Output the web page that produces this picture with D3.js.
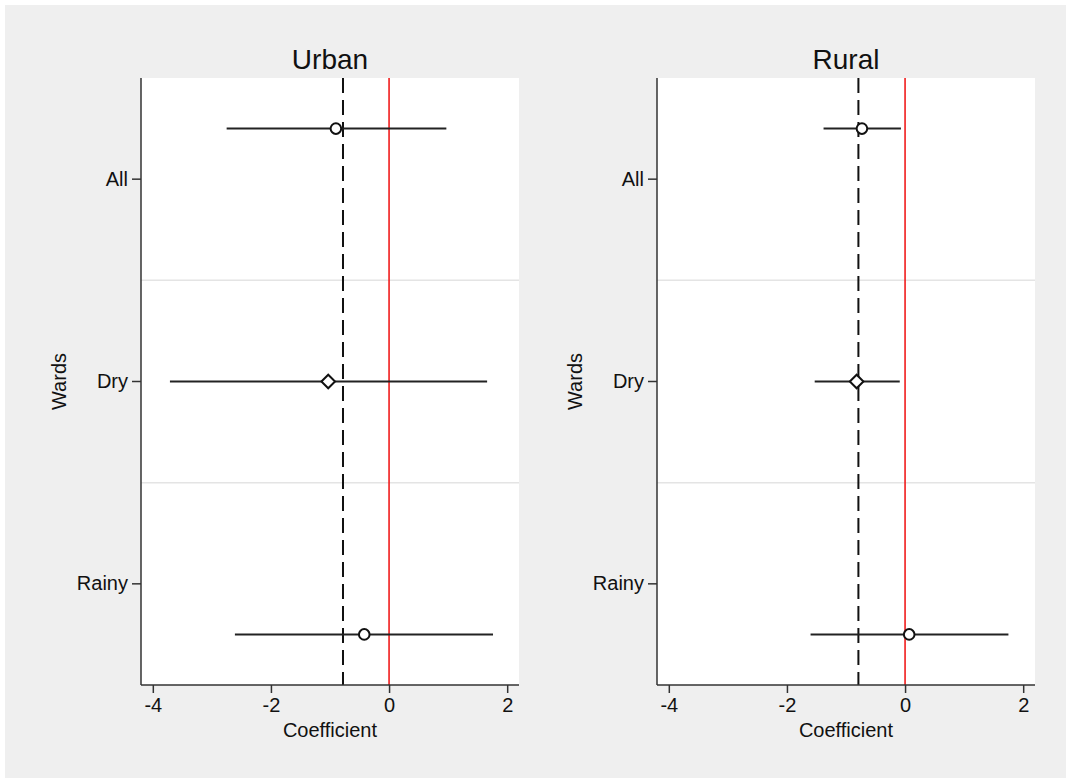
<!DOCTYPE html>
<html><head><meta charset="utf-8">
<script src="https://cdn.jsdelivr.net/npm/d3@7/dist/d3.min.js"></script>
<style>
html,body{margin:0;padding:0;background:#fff;}
text{font-family:"Liberation Sans",Arial,sans-serif;fill:#111;}
</style></head>
<body><svg id="c" width="1066" height="778"></svg>
<script>
// ---- data ----
const categories = ["All", "Dry", "Rainy"];
const bandPosition = [0.25, 0.5, 0.75];      // position of the estimate within each category band
const markerShapes = ["circle", "diamond", "circle"];
const panels = ["Urban", "Rural"];
const xTicks = [-4, -2, 0, 2];

const urbanEst   = [-0.90, -1.03, -0.42];
const urbanLow   = [-2.75, -3.71, -2.61];
const urbanHigh  = [ 0.97,  1.66,  1.76];
const urbanMean  = -0.78;

const ruralEst   = [-0.73, -0.82,  0.07];
const ruralLow   = [-1.38, -1.53, -1.60];
const ruralHigh  = [-0.07, -0.09,  1.75];
const ruralMean  = -0.79;

const panelData = [
  {title: panels[0], est: urbanEst, low: urbanLow, high: urbanHigh, mean: urbanMean},
  {title: panels[1], est: ruralEst, low: ruralLow, high: ruralHigh, mean: ruralMean}
];

// ---- drawing ----
const svg = d3.select("#c");
svg.append("rect").attr("x",5).attr("y",5).attr("width",1061).attr("height",773).attr("fill","#efefef");

const plotTop = 78, plotBottom = 685;
const panelX = [{l:141, r:519}, {l:657, r:1035}];

panelData.forEach((p, pi) => {
  const {l, r} = panelX[pi];
  const x = d3.scaleLinear().domain([-4.2, 2.2]).range([l, r]);
  const y = d3.scaleBand().domain(categories).range([plotTop, plotBottom]).padding(0);
  const g = svg.append("g");

  g.append("rect").attr("x", l).attr("y", plotTop).attr("width", r - l).attr("height", plotBottom - plotTop).attr("fill", "#fff");

  // band separators
  categories.slice(1).forEach(c => {
    g.append("line").attr("x1", l).attr("x2", r).attr("y1", y(c)).attr("y2", y(c))
      .attr("stroke", "#e4e4e4").attr("stroke-width", 1.5);
  });

  // reference lines
  g.append("line").attr("x1", x(p.mean)).attr("x2", x(p.mean)).attr("y1", plotTop).attr("y2", plotBottom)
    .attr("stroke", "#111").attr("stroke-width", 2).attr("stroke-dasharray", "15,7");
  g.append("line").attr("x1", x(0)).attr("x2", x(0)).attr("y1", plotTop).attr("y2", plotBottom)
    .attr("stroke", "#f01c1c").attr("stroke-width", 1.6);

  // CIs and markers
  categories.forEach((c, i) => {
    const yy = y(c) + y.bandwidth() * bandPosition[i];
    g.append("line").attr("x1", x(p.low[i])).attr("x2", x(p.high[i])).attr("y1", yy).attr("y2", yy)
      .attr("stroke", "#222").attr("stroke-width", 2);
    const cx = x(p.est[i]);
    if (markerShapes[i] === "circle") {
      g.append("circle").attr("cx", cx).attr("cy", yy).attr("r", 5.3)
        .attr("fill", "#fff").attr("stroke", "#111").attr("stroke-width", 2);
    } else {
      const s = 6.8;
      g.append("path").attr("d", `M${cx-s},${yy}L${cx},${yy-s}L${cx+s},${yy}L${cx},${yy+s}Z`)
        .attr("fill", "#fff").attr("stroke", "#111").attr("stroke-width", 2);
    }
  });

  // x axis
  const xa = g.append("g").attr("transform", `translate(0,${plotBottom})`)
    .call(d3.axisBottom(x).tickValues(xTicks).tickSize(8).tickPadding(5).tickFormat(d => d < 0 ? "-" + Math.abs(d) : d));
  xa.select(".domain").attr("stroke", "#333").attr("stroke-width", 1.5).attr("d", `M${l},0H${r}`);
  xa.selectAll(".tick line").attr("stroke", "#333").attr("stroke-width", 1.5);
  xa.selectAll(".tick text").attr("font-size", 20).attr("fill", "#111");

  // y axis
  const ya = g.append("g").attr("transform", `translate(${l},0)`)
    .call(d3.axisLeft(y).tickSize(9).tickPadding(4));
  ya.select(".domain").attr("stroke", "#333").attr("stroke-width", 1.5).attr("d", `M0,${plotTop}V${plotBottom}`);
  ya.selectAll(".tick line").attr("stroke", "#333").attr("stroke-width", 1.5);
  ya.selectAll(".tick text").attr("font-size", 20).attr("fill", "#111");

  // titles
  g.append("text").attr("x", (l + r) / 2).attr("y", 69).attr("text-anchor", "middle")
    .attr("font-size", 28).text(p.title);
  g.append("text").attr("x", x(-1)).attr("y", 737).attr("text-anchor", "middle")
    .attr("font-size", 20).text("Coefficient");
  g.append("text").attr("transform", `translate(${l - 75},${(plotTop + plotBottom) / 2}) rotate(-90)`)
    .attr("text-anchor", "middle").attr("font-size", 20).text("Wards");
});
</script></body></html>
